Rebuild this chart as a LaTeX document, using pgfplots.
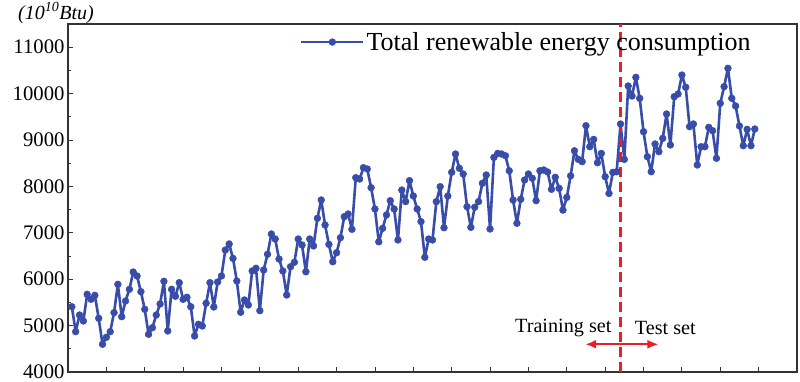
\documentclass[border=0pt]{standalone}
\usepackage{fontspec}
\setmainfont{Liberation Serif}
\usepackage{pgfplots}
\pgfplotsset{compat=1.18}
\usepackage{pgfplotstable}
\usetikzlibrary{arrows.meta}
\definecolor{lineblue}{RGB}{56,76,170}
\definecolor{splitred}{RGB}{235,30,35}
\pgfplotstableread{
x y
1 5407
2 4869
3 5228
4 5099
5 5674
6 5567
7 5653
8 5157
9 4597
10 4748
11 4869
12 5279
13 5890
14 5192
15 5530
16 5782
17 6155
18 6069
19 5731
20 5351
21 4812
22 4955
23 5228
24 5466
25 5955
26 4884
27 5782
28 5632
29 5925
30 5567
31 5610
32 5407
33 4776
34 5028
35 4991
36 5481
37 5925
38 5401
39 5940
40 6069
41 6629
42 6759
43 6450
44 5961
45 5287
46 5552
47 5444
48 6177
49 6235
50 5321
51 6198
52 6537
53 6974
54 6866
55 6435
56 6177
57 5659
58 6269
59 6364
60 6866
61 6737
62 6160
63 6866
64 6716
65 7313
66 7707
67 7168
68 6750
69 6377
70 6571
71 6894
72 7347
73 7405
74 7075
75 8188
76 8159
77 8403
78 8375
79 7972
80 7513
81 6806
82 7095
83 7384
84 7692
85 7513
86 6845
87 7922
88 7672
89 8124
90 7793
91 7513
92 7240
93 6472
94 6866
95 6845
96 7672
97 7994
98 7108
99 7793
100 8304
101 8698
102 8390
103 8267
104 7562
105 7118
106 7550
107 7672
108 8067
109 8246
110 7082
111 8625
112 8711
113 8698
114 8661
115 8337
116 7707
117 7205
118 7722
119 8138
120 8267
121 8175
122 7692
123 8337
124 8353
125 8310
126 7937
127 8196
128 7958
129 7489
130 7763
131 8228
132 8767
133 8582
134 8532
135 9308
136 8855
137 9013
138 8510
139 8711
140 8209
141 7849
142 8302
143 8316
144 9345
145 8582
146 10164
147 9948
148 10351
149 9898
150 9179
151 8640
152 8316
153 8914
154 8748
155 9035
156 9560
157 8892
158 9933
159 9991
160 10400
161 10136
162 9287
163 9345
164 8461
165 8855
166 8855
167 9272
168 9200
169 8605
170 9791
171 10149
172 10545
173 9898
174 9733
175 9302
176 8877
177 9229
178 8877
179 9237
}\datatable

\begin{document}
\begin{tikzpicture}
\begin{axis}[name=ax, scale only axis, width=729pt, height=348pt,
 xmin=0, xmax=190, ymin=4000, ymax=11500,
 xtick={10,20,...,180}, xticklabels={},
 ytick={4000,5000,...,11000},
 minor y tick num=1,
 tick pos=left, tick align=inside,
 major tick length=5pt, minor tick length=3pt,
 axis line style={draw=black!80, line width=1.1pt},
 every tick/.style={black!80, line width=0.9pt},
 /pgf/number format/assume math mode=true,
 /pgf/number format/1000 sep={},
 scaled y ticks=false,
 yticklabel style={font=\fontsize{20.7}{24}\selectfont},
 clip=false,
 legend style={at={(rel axis cs:0.318,0.948)}, anchor=west, draw=none, fill=none, inner sep=0pt, font=\fontsize{26}{30}\selectfont},
 legend image code/.code={\draw[mark repeat=2,mark phase=2,#1] plot coordinates {(0pt,0pt)(31pt,0pt)(62pt,0pt)};},
]
\addplot[color=lineblue, line width=2.6pt, line join=round, mark=*, mark size=3.4pt, mark options={solid, fill=lineblue, line width=0.5pt}] table[x=x,y=y]{\datatable};
\addlegendentry{Total renewable energy consumption}
\draw[splitred, line width=2.8pt, dash pattern=on 10pt off 5pt] (axis cs:144,4000) -- (axis cs:144,11500);
\draw[splitred, line width=2.2pt, {Latex[length=11pt,width=9pt]}-{Latex[length=11pt,width=9pt]}] (axis cs:134.8,4597) -- (axis cs:153.9,4597);
\node[anchor=east, font=\fontsize{20.2}{24}\selectfont, inner sep=0pt] at (axis cs:141.7,4948) {Training set};
\node[anchor=west, font=\fontsize{20.2}{24}\selectfont, inner sep=0pt] at (axis cs:147.7,4948) {Test set};
\node[font=\fontsize{20}{24}\selectfont, inner sep=0pt] at (rel axis cs:-0.0165,1.0316) {\textit{(10\textsuperscript{10}Btu)}};
\end{axis}
\pgfresetboundingbox
\path (ax.south west) ++(-68pt,-10pt) rectangle ([xshift=3pt,yshift=24pt]ax.north east);
\end{tikzpicture}
\end{document}
